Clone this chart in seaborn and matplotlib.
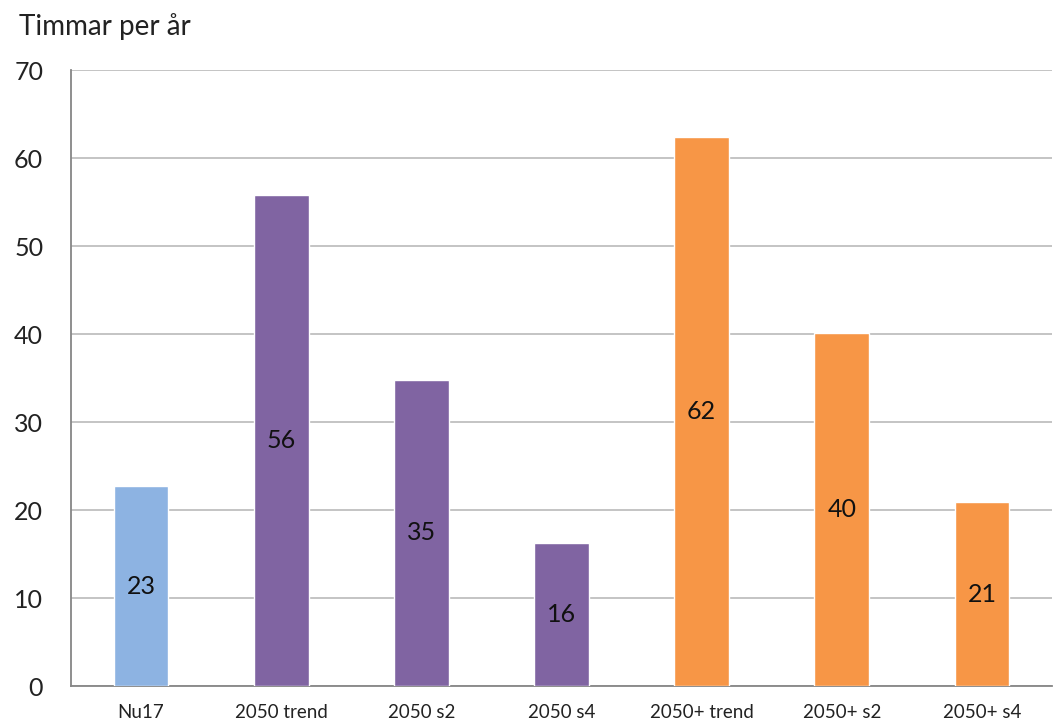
import matplotlib
matplotlib.use("Agg")
import matplotlib.pyplot as plt
import seaborn as sns
import numpy as np

categories = ["Nu17", "2050 trend", "2050 s2", "2050 s4", "2050+ trend", "2050+ s2", "2050+ s4"]
values = [22.7, 55.8, 34.8, 16.2, 62.4, 40.1, 20.9]
bar_colors = ["#8DB3E2", "#8064A2", "#8064A2", "#8064A2", "#F79646", "#F79646", "#F79646"]
y_ticks = [0, 10, 20, 30, 40, 50, 60, 70]
y_title = "Timmar per år"

sns.set_style("white")
plt.rcParams["font.family"] = ["Lato", "DejaVu Sans"]

fig = plt.figure(figsize=(10.54, 7.23), dpi=100)
ax = fig.add_axes([71 / 1054, 1 - 686 / 723, (1052 - 71) / 1054, (686 - 70) / 723])

sns.barplot(x=categories, y=values, hue=categories, palette=bar_colors,
            legend=False, width=0.39, saturation=1, ax=ax, zorder=3)

for cont, v in zip(ax.containers, values):
    ax.bar_label(cont, labels=[f"{v:.0f}"], label_type="center", fontsize=18, color="#111111")

ax.set_ylim(0, 70)
ax.set_xlim(-0.5, len(categories) - 0.5)
ax.set_yticks(y_ticks)
ax.set_yticklabels([str(t) for t in y_ticks], fontsize=18, color="#222222")
ax.yaxis.grid(True, color="#BFBFBF", linewidth=1.3, zorder=0)
ax.set_axisbelow(True)

ax.set_xticks(range(len(categories)))
ax.set_xticklabels(categories, fontsize=13.5, color="#222222")
ax.set_xticks(np.arange(-0.5, len(categories), 1.0), minor=True)
ax.tick_params(axis="x", which="major", length=0, pad=13)
ax.tick_params(axis="x", which="minor", length=6, width=1.2, color="#868686", direction="out")
ax.tick_params(axis="y", which="major", length=8, width=1.2, color="#868686", direction="out", pad=12)

for s in ["top", "right"]:
    ax.spines[s].set_visible(False)
for s in ["left", "bottom"]:
    ax.spines[s].set_color("#868686")
    ax.spines[s].set_linewidth(1.3)

ax.set_xlabel("")
ax.set_ylabel("")

fig.text(19 / 1054, 1 - 27 / 723, y_title, fontsize=20, color="#222222", va="center", ha="left")

fig.savefig("out.png", dpi=100)
